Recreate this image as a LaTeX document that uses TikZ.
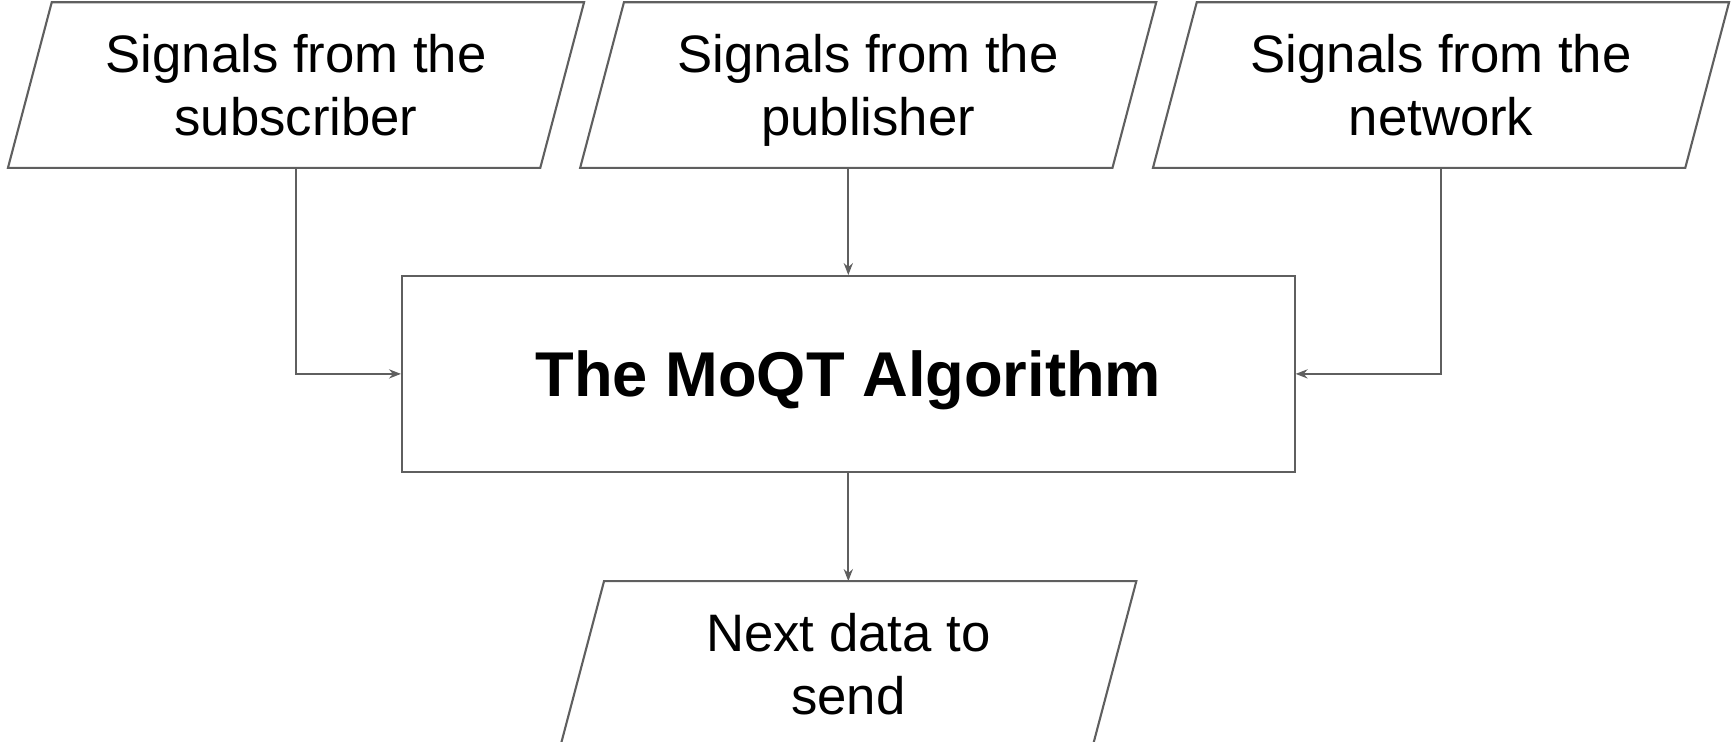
\documentclass[tikz,border=0pt]{standalone}
\usepackage{fontspec}
\setmainfont{Liberation Sans}
\usetikzlibrary{arrows.meta}
\definecolor{linegray}{RGB}{95,95,95}
\begin{document}
\begin{tikzpicture}[>={Stealth[length=3.4pt,width=2.6pt]}, line width=0.6pt,
	iobox/.style={rectangle, minimum width=5.302cm, minimum height=1.635cm, inner sep=0pt,
		align=center, text depth=0pt, font=\fontsize{15}{17.9}\selectfont,
		append after command={\pgfextra{
			\draw[linegray] ([xshift=0.219cm]\tikzlastnode.north west) -- ([xshift=0.219cm]\tikzlastnode.north east)
				-- ([xshift=-0.219cm]\tikzlastnode.south east) -- ([xshift=-0.219cm]\tikzlastnode.south west) -- cycle;}}},
	algbox/.style={draw=linegray, rectangle, minimum width=8.925cm, minimum height=1.955cm,
		text depth=0pt, font=\fontsize{18}{21}\selectfont\bfseries},
	flow/.style={->, draw=linegray}]
	% 画布大小
	\useasboundingbox (0,0) rectangle (17.32,-7.42);
	
	% 三路输入信号
	\node[iobox] (sub) at (2.960,-0.851) {Signals from the\\subscriber};
	\node[iobox] (pub) at (8.682,-0.851) {Signals from the\\publisher};
	\node[iobox] (net) at (14.410,-0.851) {Signals from the\\network};
	
	% 算法本体
	\node[algbox] (alg) at (8.483,-3.739) {The MoQT Algorithm};
	
	% 输出
	\node[iobox] (out) at (8.483,-6.639) {Next data to\\send};
	
	% 连线
	\draw[flow] (sub.south) |- (alg.west);
	\draw[flow] (pub.south -| alg.north) -- (alg.north);
	\draw[flow] (net.south) |- (alg.east);
	\draw[flow] (alg.south) -- (out.north);
\end{tikzpicture}
\end{document}
